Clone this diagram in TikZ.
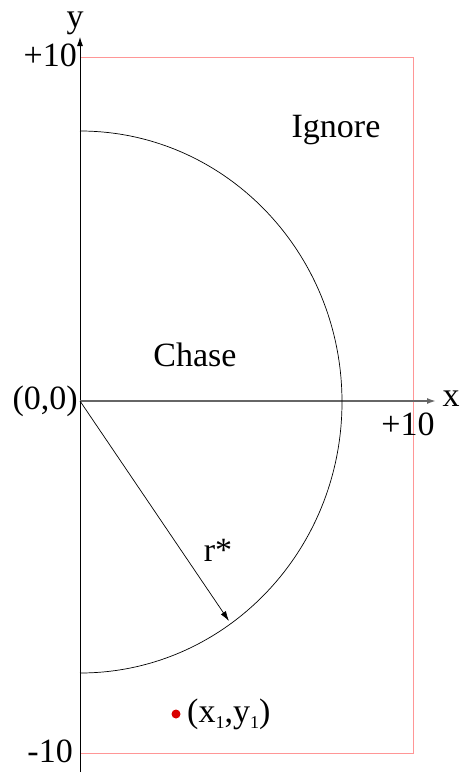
\documentclass[tikz,border=0pt]{standalone}
\usepackage{fontspec}
\setmainfont{Liberation Serif}
\usetikzlibrary{arrows.meta}

\definecolor{fieldpink}{RGB}{255,150,150}
\newcommand{\subone}{\raisebox{-0.4ex}{\fontsize{18}{20}\selectfont 1}}

\tikzset{
  lbl/.style={font=\fontsize{34}{40}\selectfont, inner sep=1pt},
  axisarrow/.style={-{Latex[length=9pt,width=6pt]}}
}

\begin{document}
\begin{tikzpicture}[x=1pt,y=-1pt]
\useasboundingbox (0,0) rectangle (463,774);

% Field boundary
\draw[fieldpink, line width=1pt] (80,57) rectangle (413,753);

% Axes
\coordinate (O) at (80,401);
\coordinate (ybot) at (80,772);
\coordinate (ytop) at (80,37);
\coordinate (xend) at (436,401);
\draw[axisarrow, line width=0.8pt] (ybot) -- (ytop);
\draw[axisarrow, black!60, line width=1.6pt] (O) -- (xend);
\node[lbl, anchor=base] (ylab) at (75,27) {y};
\node[lbl] (xlab) at (451,399) {x};

% Axis ticks
\node[lbl, anchor=east] (ymax) at (78,55) {+10};
\node[lbl, anchor=east] (ymin) at (74,751) {-10};
\node[lbl] (xmax) at (408,424) {+10};
\node[lbl, anchor=east] (orig) at (79,401) {(0,0)};

% Chase region
\draw[line width=0.7pt] (80,131) arc[start angle=-90, end angle=90, x radius=262, y radius=271];
\node[lbl] (chase) at (195,355) {Chase};
\node[lbl] (ignore) at (336,130) {Ignore};

% Radius
\coordinate (R) at (229,621);
\draw[-{Latex[length=10pt,width=6pt]}, line width=0.7pt] (O) -- (R);
\node[lbl] (rstar) at (218,550) {r*};

% Point
\fill[red!85!black] (176,714) circle (4.5);
\node[lbl, anchor=west] (pt) at (186,714) {(x\subone,y\subone)};

\end{tikzpicture}
\end{document}
